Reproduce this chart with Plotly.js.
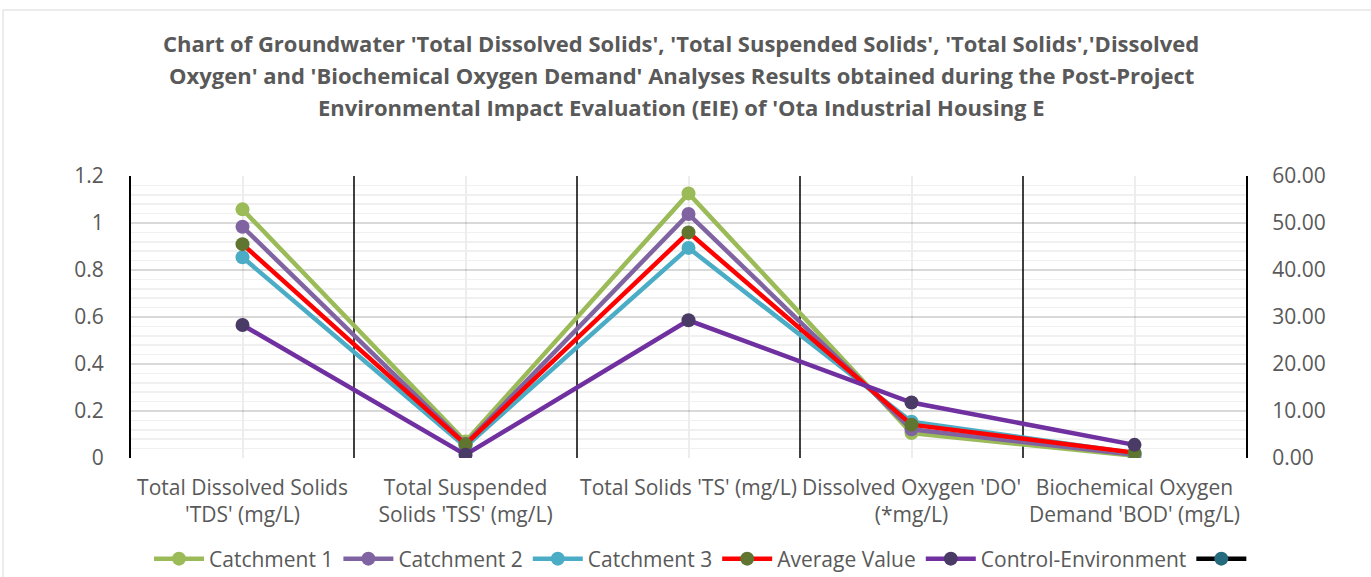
<!DOCTYPE html>
<html>
<head>
<meta charset="utf-8">
<script src="https://cdn.plot.ly/plotly-3.0.1.min.js"></script>
<style>
    html, body { margin: 0; padding: 0; background: #fff; }
    #chart { width: 1371px; height: 577px; }
</style>
</head>
<body>
<div id="chart"></div>
<script>
// Categories (x axis)
const categories = [
    "Total Dissolved Solids<br>'TDS' (mg/L)",
    "Total Suspended<br>Solids 'TSS' (mg/L)",
    "Total Solids 'TS' (mg/L)",
    "Dissolved Oxygen 'DO'<br>(*mg/L)",
    "Biochemical Oxygen<br>Demand 'BOD' (mg/L)"
];

// Series values (read on the right axis, 0 - 60)
const catchment1 = [52.9, 3.5, 56.3, 5.3, 0.5];
const catchment2 = [49.2, 3.0, 51.9, 6.1, 0.7];
const catchment3 = [42.7, 2.4, 44.7, 7.7, 1.0];
const averageValue = [45.5, 2.9, 48.0, 7.1, 1.1];
const controlEnv = [28.3, 0.7, 29.3, 11.8, 2.8];
const emptySeries = [null, null, null, null, null];

const titleLines = [
    "Chart of Groundwater 'Total Dissolved Solids', 'Total Suspended Solids', 'Total Solids','Dissolved",
    "Oxygen' and 'Biochemical Oxygen Demand' Analyses Results obtained during the Post-Project",
    "Environmental Impact Evaluation (EIE) of 'Ota Industrial Housing E"
];

const FONT = '"Open Sans", Lato, sans-serif';
const TEXT_COLOR = '#595959';

function series(name, values, lineColor, markerColor) {
    return {
        type: 'scatter',
        mode: 'lines+markers',
        name: name,
        x: categories,
        y: values,
        yaxis: 'y2',
        line: { color: lineColor, width: 4.5 },
        marker: { color: markerColor, size: 14 },
        hoverinfo: 'name+y',
    };
}

const data = [
    series('Catchment 1', catchment1, '#9BBB59', '#9BBB59'),
    series('Catchment 2', catchment2, '#8064A2', '#8064A2'),
    series('Catchment 3', catchment3, '#4BACC6', '#4BACC6'),
    series('Average Value', averageValue, '#FF0000', '#5F7530'),
    series('Control-Environment', controlEnv, '#7030A0', '#4A3A66'),
    {
        type: 'scatter',
        mode: 'lines+markers',
        name: '',
        x: categories,
        y: emptySeries,
        yaxis: 'y',
        line: { color: '#000000', width: 4.5 },
        marker: { color: '#266A7D', size: 14 },
    },
];

// Black separators between the categories
const separators = [0.5, 1.5, 2.5, 3.5].map(v => ({
    type: 'line', xref: 'x', yref: 'paper',
    x0: v, x1: v, y0: 0, y1: 1,
    line: { color: '#000000', width: 1.5 },
    layer: 'between',
}));

// plot area in pixels
const PL = 131, PR = 1246, PT = 176, PB = 458;
const PW = PR - PL, PH = PB - PT;

const titleY = [43, 75, 107];
const annotations = titleLines.map((t, i) => ({
    text: '<b>' + t + '</b>',
    xref: 'paper', yref: 'paper',
    x: (681 - PL) / PW,
    y: (PB - titleY[i]) / PH,
    xanchor: 'center', yanchor: 'middle',
    showarrow: false,
    font: { family: FONT, size: 22, color: TEXT_COLOR },
}));

const layout = {
    width: 1371,
    height: 577,
    paper_bgcolor: '#ffffff',
    plot_bgcolor: '#ffffff',
    margin: { t: PT, r: 1371 - PR, b: 577 - PB, l: PL, autoexpand: false },
    font: { family: FONT, size: 21, color: TEXT_COLOR },
    showlegend: true,
    legend: {
        orientation: 'h',
        x: (703 - PL) / PW,
        xanchor: 'center',
        y: (PB - 559) / PH,
        yanchor: 'middle',
        font: { family: FONT, size: 21, color: TEXT_COLOR },
        itemwidth: 50,
    },
    xaxis: {
        type: 'category',
        range: [-0.5, 4.5],
        automargin: false,
        showgrid: true,
        gridcolor: '#EDEDED',
        gridwidth: 2,
        showline: false,
        zeroline: false,
        ticks: '',
        tickfont: { family: FONT, size: 21, color: TEXT_COLOR },
        ticklabelstandoff: 15,
        fixedrange: true,
    },
    yaxis: {
        range: [0, 1.2],
        dtick: 0.2,
        automargin: false,
        showgrid: true,
        gridcolor: 'rgba(0,0,0,0.15)',
        gridwidth: 1.5,
        minor: { dtick: 0.04, showgrid: true, gridcolor: 'rgba(0,0,0,0.06)', gridwidth: 1.5 },
        showline: true,
        linecolor: '#000000',
        linewidth: 2,
        zeroline: false,
        ticks: '',
        ticklabelstandoff: 21,
        tickfont: { family: FONT, size: 21, color: TEXT_COLOR },
        fixedrange: true,
    },
    yaxis2: {
        range: [0, 60],
        dtick: 10,
        tickformat: '.2f',
        overlaying: 'y',
        side: 'right',
        automargin: false,
        showgrid: false,
        showline: true,
        linecolor: '#000000',
        linewidth: 2,
        zeroline: false,
        ticks: '',
        ticklabelstandoff: 20,
        tickfont: { family: FONT, size: 21, color: TEXT_COLOR },
        fixedrange: true,
    },
    shapes: [
        // chart area border
        {
            type: 'rect', xref: 'paper', yref: 'paper',
            x0: (3 - PL) / PW, x1: (1390 - PL) / PW,
            y0: (PB - 600) / PH, y1: (PB - 10) / PH,
            line: { color: '#D9D9D9', width: 1 },
            layer: 'below',
        },
        ...separators,
    ],
    annotations: annotations,
};

Plotly.newPlot('chart', data, layout, { displayModeBar: false, staticPlot: true });
</script>
</body>
</html>
